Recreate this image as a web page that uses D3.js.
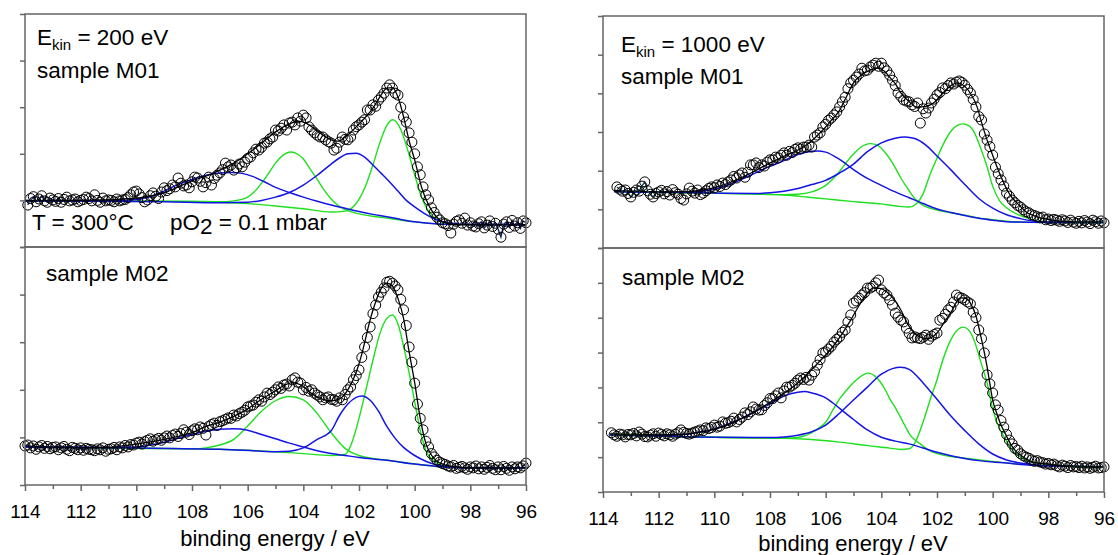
<!DOCTYPE html>
<meta charset="utf-8">
<style>
body { margin: 0; background: #fff; }
svg { font-family: "Liberation Sans", Arial, sans-serif; }
.frame { fill: none; stroke: #666; stroke-width: 1.5; }
.axis line { stroke: #666; stroke-width: 1.5; }
.axis text { fill: #000; font-size: 19px; }
.green { fill: none; stroke: #1ee01e; stroke-width: 1.4; }
.blue { fill: none; stroke: #1414e6; stroke-width: 1.5; }
.fit { fill: none; stroke: #000; stroke-width: 1.3; }
.pt { fill: none; stroke: #000; stroke-width: 1; }
.note { font-size: 22.5px; fill: #000; }
.title { font-size: 22px; fill: #000; }
</style>
<body>
<script src="https://d3js.org/d3.v7.min.js"></script>
<script>
// ---- measured spectra, 0.1 eV steps, counts (1 tick = 100) ----
// top left: E_kin = 200 eV, sample M01, starts at 113.9 eV
var tlCounts = [
  90,104,108,97,103,110,99,96,105,101,
  98,104,96,102,107,99,101,103,97,100,
  102,107,104,99,112,100,96,105,99,101,
  100,97,103,99,101,102,106,112,118,120,
  114,106,97,101,110,116,109,104,118,127,
  121,125,133,129,148,137,131,133,127,140,
  150,148,141,129,138,150,133,147,154,159,
  166,180,172,176,165,170,178,172,182,190,
  193,202,210,208,214,223,225,232,236,251,
  249,255,262,251,266,268,262,277,270,283,
  277,258,251,245,240,236,236,230,226,223,
  208,212,225,236,231,230,236,251,258,262,
  268,273,294,294,305,302,315,322,330,341,
  348,341,330,326,300,279,268,245,225,200,
  172,155,129,112,101,84,74,64,58,52,
  50,46,30,49,55,58,51,62,47,52,
  45,43,50,54,41,47,56,44,51,38,
  21,49,54,42,57,45,52,40,56,52
];
// bottom left: sample M02, starts at 114.0 eV
var blCounts = [
  82,
  84,78,82,75,80,83,77,81,76,79,
  80,74,78,81,75,72,79,77,74,78,
  73,77,75,74,72,76,74,78,71,75,
  76,79,74,80,78,83,80,85,84,88,
  90,86,91,94,97,92,95,98,94,99,
  103,99,104,107,102,108,116,111,106,114,
  118,116,122,119,105,123,127,130,125,133,
  135,138,141,140,147,145,150,153,157,164,
  166,168,174,179,176,185,193,190,195,200,
  206,203,210,212,208,221,225,216,214,200,
  205,197,200,193,189,185,179,183,185,180,
  179,176,183,179,190,200,206,221,230,242,
  268,290,310,332,360,378,395,405,414,426,
  428,424,418,410,390,368,335,290,258,214,
  170,140,116,92,80,66,59,52,48,45,
  43,40,38,41,35,37,39,36,33,38,
  36,40,34,38,33,37,41,35,32,38,
  32,39,35,31,38,34,38,36,40,46
];
// top right: E_kin = 1000 eV, sample M01, starts at 113.5 eV
var trCounts = [
  158,152,147,150,141,132,
  144,150,147,160,171,148,139,132,141,145,
  149,140,146,137,151,143,139,128,124,140,
  155,147,142,150,138,142,148,154,158,156,
  163,159,168,164,171,176,185,181,189,194,
  183,196,215,215,220,208,215,212,222,228,
  228,235,233,240,246,240,250,247,255,259,
  256,261,261,266,261,287,292,298,313,320,
  330,336,344,352,365,378,390,412,427,434,
  442,450,465,458,460,468,473,478,470,478,
  466,458,447,434,420,401,392,383,380,378,
  370,366,375,323,360,349,362,375,385,396,
  402,414,412,420,427,424,429,432,428,421,
  410,401,384,365,340,331,295,279,262,240,
  209,192,176,160,142,134,124,117,110,106,
  99,94,91,86,84,81,78,80,73,75,
  71,74,72,69,73,70,66,72,67,64,
  69,65,71,67,63,72,68,64,70,65
];
// bottom right: sample M02, starts at 113.7 eV
var brCounts = [
  170,164,160,166,164,158,165,164,
  168,161,172,166,159,158,163,167,160,169,
  165,161,167,164,160,166,170,178,171,168,
  166,169,172,175,178,176,184,182,185,192,
  186,189,201,197,199,203,212,201,208,215,
  227,222,230,244,238,235,236,248,256,268,
  268,276,284,270,290,301,301,306,312,321,
  327,323,329,321,335,345,364,380,399,402,
  410,418,430,438,445,458,465,488,508,542,
  548,556,565,572,585,585,590,600,608,580,
  571,565,551,536,513,502,493,488,470,455,
  442,445,442,440,444,450,438,447,452,456,
  493,498,510,522,530,545,565,558,556,551,
  545,540,516,500,465,440,399,336,310,284,
  250,235,205,186,165,149,138,125,120,110,
  104,100,97,92,88,90,86,84,80,82,
  78,80,75,72,77,74,70,76,72,73,
  70,74,69,72,68,71,74,69,70,72
];

// ---- fitted envelope and components, [binding energy, counts] ----
var tlFit = [[114,99],[113,100],[112,100],[111,101],[110.5,103],[110,105],[109.5,109],[109,116],[108.5,129],[108,142],[107.5,152],[107,165],[106.5,180],[106,200],[105.5,223],[105,247],[104.5,264],[104.2,270],[103.9,266],[103.5,249],[103,230],[102.75,227],[102.5,236],[102,264],[101.5,298],[101.25,322],[101,341],[100.8,342],[100.6,322],[100.4,280],[100.2,228],[100,187],[99.75,128],[99.5,90],[99.25,67],[99,54],[98.5,48],[98,48],[96,48]];
var tlGreenA = [[114,99],[108,98],[107,96],[106,93],[105,88],[104,82],[103,75],[102.5,77],[102.25,84],[102,102],[101.75,133],[101.5,176],[101.25,224],[101,261],[100.78,273],[100.5,252],[100.25,208],[100,155],[99.75,106],[99.5,77],[99.25,61],[99,53],[98.5,48],[96,48]];
var tlGreenB = [[114,99],[108,98],[107,97],[106.5,99],[106,107],[105.75,119],[105.5,137],[105.25,158],[105,180],[104.75,196],[104.45,204],[104.2,199],[104,189],[103.75,167],[103.5,145],[103.25,122],[103,103],[102.75,89],[102.5,80],[102,71],[101,62],[100,54],[99,49],[98,48],[96,48]];
var tlBlueA = [[114,99],[109,97],[107,95],[106,96],[105.5,100],[105,107],[104.5,117],[104,133],[103.5,154],[103,178],[102.7,191],[102.4,200],[102.1,201],[101.8,193],[101.5,176],[101.2,158],[101,146],[100.6,120],[100.3,100],[100,86],[99.6,70],[99.2,58],[98.8,52],[98.3,49],[96,48]];
var tlBlueB = [[114,99],[111,100],[110.2,101],[109.5,108],[109,120],[108.5,134],[108,145],[107.5,154],[107,159],[106.6,160],[106.2,158],[105.8,151],[105.4,140],[105,128],[104.5,117],[104,107],[103.5,98],[103,90],[102.5,83],[102,76],[101.5,70],[101,65],[100.5,59],[100,54],[99,49],[98,48],[96,48]];

var blFit = [[114,82],[113,79],[112,78],[111,79],[110.5,82],[110,86],[109,96],[108,110],[107.5,123],[107,132],[106.5,144],[106,160],[105.5,180],[105,198],[104.7,209],[104.4,215],[104,207],[103.7,192],[103.3,180],[103,177],[102.7,181],[102.4,200],[102.1,237],[101.9,275],[101.6,347],[101.4,385],[101.2,413],[101,424],[100.8,418],[100.6,392],[100.4,350],[100.2,280],[100,215],[99.8,140],[99.6,88],[99.4,63],[99.2,50],[99,44],[98.5,38],[98,36],[96,36]];
var blGreenA = [[114,80],[110,78],[107,75],[106,73],[105,70],[104,66],[103,62],[102.5,64],[102.25,90],[102,140],[101.75,200],[101.5,262],[101.25,318],[101,350],[100.8,357],[100.6,338],[100.4,292],[100.2,236],[100,175],[99.8,114],[99.6,73],[99.4,55],[99.2,46],[99,41],[98.5,37],[98,36],[96,36]];
var blGreenB = [[114,80],[108,76],[107.5,78],[107,84],[106.5,96],[106,124],[105.5,155],[105,177],[104.5,186],[104,179],[103.5,150],[103,110],[102.75,92],[102.5,77],[102,62],[101.5,56],[101,52],[100,44],[99,38],[98,36],[96,36]];
var blBlueA = [[114,80],[107,75],[105.5,71],[105,70],[104.5,71],[104,78],[103.5,96],[103,114],[102.7,146],[102.4,170],[102.1,184],[101.9,187],[101.6,178],[101.3,155],[101,123],[100.7,98],[100.4,79],[100,62],[99.6,50],[99.2,42],[98.8,39],[98,36],[96,36]];
var blBlueB = [[114,80],[111,79],[110,80],[109.5,84],[109,90],[108.5,98],[108,106],[107.5,113],[107,117],[106.5,118],[106,115],[105.5,106],[105,97],[104.5,88],[104,80],[103.5,72],[103,66],[102.5,62],[102,58],[101,52],[100,44],[99,38],[98,36],[96,36]];

var trFit = [[113.6,149],[112.5,146],[111.8,145],[111,146],[110.4,150],[109.8,160],[109.2,176],[108.6,197],[108,220],[107.4,240],[106.8,261],[106.4,284],[106.1,305],[105.8,330],[105.5,356],[105.25,392],[105,427],[104.7,448],[104.4,460],[104.15,465],[103.9,458],[103.7,442],[103.5,425],[103.3,401],[103,378],[102.7,364],[102.4,366],[102.1,376],[101.8,400],[101.5,420],[101.28,427],[101,418],[100.8,400],[100.56,365],[100.4,325],[100.2,279],[100,240],[99.84,209],[99.6,168],[99.48,150],[99.3,130],[99.12,116],[98.9,100],[98.76,91],[98.5,83],[98.3,78],[98,74],[97.7,70],[97,67],[96,67]];
var trGreenA = [[113.6,146],[112,144],[110.5,142],[108.7,140],[107.5,137],[106.7,132],[106,127],[105,120],[104,114],[103.4,108],[103,106],[102.75,114],[102.5,140],[102.25,190],[102,232],[101.75,272],[101.5,302],[101.25,318],[101.06,321],[100.85,316],[100.7,304],[100.45,262],[100.2,210],[100,160],[99.75,122],[99.5,104],[99.25,92],[99,84],[98.75,78],[98.3,69],[97.5,66],[96,66]];
var trGreenB = [[113.6,146],[110.5,142],[108.7,140],[107.5,138],[107,139],[106.5,145],[106,162],[105.75,178],[105.5,198],[105.25,222],[105,243],[104.75,260],[104.4,270],[104.1,264],[103.9,250],[103.6,220],[103.3,181],[103,148],[102.75,124],[102.5,110],[102.2,102],[102,98],[101.5,91],[101,85],[100.5,78],[100,73],[99.5,69],[99,67],[98,66],[96,66]];
var trBlueA = [[113.6,146],[110,142],[108.5,141],[108,143],[107.5,147],[107,154],[106.5,164],[106,175],[105.5,194],[105,217],[104.5,249],[104,272],[103.5,284],[103.15,287],[102.8,283],[102.4,266],[102,238],[101.5,202],[101,164],[100.5,128],[100,103],[99.5,86],[99,76],[98.5,69],[98,67],[96,66]];
var trBlueB = [[113.6,146],[111,144],[110.5,146],[110,152],[109.5,163],[109,178],[108.5,195],[108,211],[107.5,226],[107,242],[106.5,250],[106.3,251],[106,248],[105.5,229],[105,203],[104.5,180],[104,162],[103.5,145],[103,130],[102.5,115],[102,101],[101.5,92],[101,84],[100.5,77],[100,72],[99.5,68],[99,67],[98,66],[96,66]];

var brFit = [[113.75,167],[113,165],[112,164],[111.2,165],[110.5,172],[110,180],[109.3,200],[108.7,224],[108.1,252],[107.5,283],[106.9,320],[106.3,368],[105.75,416],[105.4,455],[105.1,493],[104.8,535],[104.5,571],[104.3,585],[104.05,584],[103.8,574],[103.5,548],[103.3,522],[103,475],[102.8,455],[102.6,444],[102.35,440],[102,456],[101.75,485],[101.5,515],[101.3,545],[101.17,557],[101,556],[100.8,542],[100.6,505],[100.45,456],[100.3,400],[100.2,359],[100.1,310],[100,264],[99.85,225],[99.73,198],[99.5,160],[99.38,141],[99.2,120],[99,106],[98.8,95],[98.55,86],[98,80],[97.7,77],[97,73],[96,72]];
var brGreenA = [[113.75,164],[112,160],[110,157],[108,155],[106.8,152],[105.5,143],[104.5,133],[103.7,126],[103.3,122],[103,124],[102.8,140],[102.6,178],[102.4,225],[102.25,264],[102,322],[101.9,350],[101.6,420],[101.3,462],[101.06,473],[100.8,458],[100.6,420],[100.45,379],[100.2,313],[100,238],[99.73,178],[99.5,146],[99.38,129],[99.2,112],[99,100],[98.55,86],[98,78],[97,74],[96,72]];
var brGreenB = [[113.75,164],[110,157],[108,155],[107.2,155],[106.8,160],[106.5,170],[106.2,186],[106,200],[105.75,234],[105.5,267],[105.25,292],[105,314],[104.75,331],[104.48,341],[104.25,334],[104.05,317],[103.85,292],[103.7,268],[103.5,242],[103.33,217],[103.15,190],[102.97,164],[102.8,150],[102.6,138],[102.3,120],[102,110],[101,97],[100,88],[99,80],[98,75],[96,72]];
var brBlueA = [[113.75,164],[110,157],[108,156],[107.5,158],[107,163],[106.5,173],[106,192],[105.5,226],[105,264],[104.5,301],[104,338],[103.6,354],[103.3,358],[103,352],[102.5,313],[102,266],[101.5,218],[101,176],[100.5,138],[100,109],[99.5,92],[99,83],[98.5,78],[98,75],[96,72]];
var brBlueB = [[113.75,164],[112,162],[111.5,163],[111,166],[110.5,172],[110,181],[109.5,195],[109,212],[108.5,232],[108,252],[107.5,275],[107,286],[106.75,288],[106.5,284],[106,270],[105.75,256],[105.5,240],[105,208],[104.5,178],[104,157],[103.5,146],[103,138],[102.5,126],[102,114],[101.5,104],[101,96],[100.5,90],[100,86],[99.5,83],[99,79],[98,75],[96,72]];

// energy ranges where the raw trace is drawn as a line
var tlNoise = [[113.9,112.7],[97.8,96.0]];
var blNoise = [[114.0,111.7],[97.5,96.0]];
var trNoise = [[113.5,111.9],[97.1,96.0]];
var brNoise = [[113.7,112.3],[97.3,96.0]];

var majorTicks = [114,112,110,108,106,104,102,100,98,96];
var minorTicks = [113,111,109,107,105,103,101,99,97];

// ---- layout ----
var svg = d3.select("body").append("svg")
    .attr("width", 1118)
    .attr("height", 555);

var panels = [
  {x0: 25, x1: 526, top: 14, bottom: 247, ymax: 500, start: 113.9, counts: tlCounts, fit: tlFit,
   greens: [tlGreenA, tlGreenB], blues: [tlBlueA, tlBlueB], noise: tlNoise, noiseColor: "#0c1f66"},
  {x0: 25, x1: 526, top: 247, bottom: 485, ymax: 500, start: 114.0, counts: blCounts, fit: blFit,
   greens: [blGreenA, blGreenB], blues: [blBlueA, blBlueB], noise: blNoise, noiseColor: "#0c1f66", xaxis: true},
  {x0: 603, x1: 1104, top: 16, bottom: 248, ymax: 600, start: 113.5, counts: trCounts, fit: trFit,
   greens: [trGreenA, trGreenB], blues: [trBlueA, trBlueB], noise: trNoise, noiseColor: "#0d4c58"},
  {x0: 603, x1: 1104, top: 248, bottom: 492, ymax: 700, start: 113.7, counts: brCounts, fit: brFit,
   greens: [brGreenA, brGreenB], blues: [brBlueA, brBlueB], noise: brNoise, noiseColor: "#1c4d24", xaxis: true}
];

panels.forEach(function(p) {
  var x = d3.scaleLinear().domain([114, 96]).range([p.x0, p.x1]);
  var y = d3.scaleLinear().domain([0, p.ymax]).range([p.bottom, p.top]);
  var g = svg.append("g");

  var smooth = d3.line()
      .x(function(d) { return x(d[0]); })
      .y(function(d) { return y(d[1]); })
      .curve(d3.curveMonotoneX);
  var straight = d3.line()
      .x(function(d) { return x(d[0]); })
      .y(function(d) { return y(d[1]); });

  p.greens.forEach(function(c) {
    g.append("path").datum(c).attr("class", "green").attr("d", smooth);
  });
  p.blues.forEach(function(c) {
    g.append("path").datum(c).attr("class", "blue").attr("d", smooth);
  });
  g.append("path").datum(p.fit).attr("class", "fit").attr("d", smooth);

  var pts = p.counts.map(function(v, i) { return [+(p.start - i * 0.1).toFixed(1), v]; });

  p.noise.forEach(function(r) {
    var seg = pts.filter(function(d) { return d[0] <= r[0] + 1e-6 && d[0] >= r[1] - 1e-6; });
    g.append("path").datum(seg)
      .attr("fill", "none")
      .attr("stroke", p.noiseColor)
      .attr("stroke-width", 1.3)
      .attr("d", straight);
  });

  g.selectAll(".pt")
      .data(pts)
    .enter().append("circle")
      .attr("class", "pt")
      .attr("cx", function(d) { return x(d[0]); })
      .attr("cy", function(d) { return y(d[1]); })
      .attr("r", 5);

  // left ticks, no labels
  g.append("g")
      .attr("class", "axis")
      .attr("transform", "translate(" + p.x0 + ",0)")
      .call(d3.axisLeft(y).tickValues(d3.range(0, p.ymax + 1, 100)).tickSize(5).tickFormat(""))
      .call(function(a) { a.select(".domain").remove(); });

  if (p.xaxis) {
    g.append("g")
        .attr("class", "axis")
        .attr("transform", "translate(0," + p.bottom + ")")
        .call(d3.axisBottom(x).tickValues(majorTicks).tickSize(6).tickPadding(14).tickFormat(d3.format("d")))
        .call(function(a) { a.select(".domain").remove(); });
    g.append("g")
        .attr("class", "axis")
        .attr("transform", "translate(0," + p.bottom + ")")
        .call(d3.axisBottom(x).tickValues(minorTicks).tickSize(4).tickFormat(""))
        .call(function(a) { a.select(".domain").remove(); });
  }

  g.append("rect")
      .attr("class", "frame")
      .attr("x", p.x0).attr("y", p.top)
      .attr("width", p.x1 - p.x0).attr("height", p.bottom - p.top);
});

// ---- labels ----
function ekin(xp, yp, value) {
  var t = svg.append("text").attr("class", "note").attr("x", xp).attr("y", yp);
  t.append("tspan").text("E");
  t.append("tspan").attr("font-size", "15px").attr("dy", 5).text("kin");
  t.append("tspan").attr("dy", -5).text(" = " + value + " eV");
}
ekin(37, 45, "200");
svg.append("text").attr("class", "note").attr("x", 37).attr("y", 78).text("sample M01");
svg.append("text").attr("class", "note").attr("x", 32).attr("y", 230).text("T = 300°C");
var po = svg.append("text").attr("class", "note").attr("x", 170).attr("y", 230);
po.append("tspan").text("pO");
po.append("tspan").attr("dy", 4).text("2");
po.append("tspan").attr("dy", -4).text(" = 0.1 mbar");
svg.append("text").attr("class", "note").attr("x", 46).attr("y", 281).text("sample M02");

ekin(621, 52, "1000");
svg.append("text").attr("class", "note").attr("x", 621).attr("y", 84).text("sample M01");
svg.append("text").attr("class", "note").attr("x", 622).attr("y", 285).text("sample M02");

svg.append("text").attr("class", "title").attr("x", 275).attr("y", 546)
    .attr("text-anchor", "middle").text("binding energy / eV");
svg.append("text").attr("class", "title").attr("x", 853).attr("y", 551)
    .attr("text-anchor", "middle").text("binding energy / eV");
</script>
</body>
